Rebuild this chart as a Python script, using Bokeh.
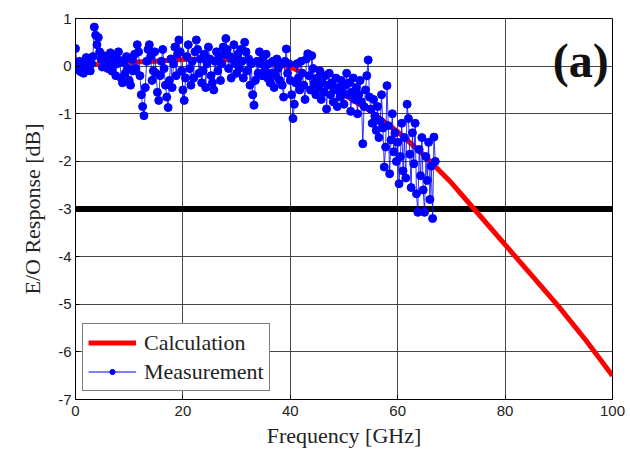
from bokeh.plotting import figure
from bokeh.models import Range1d, Legend, LegendItem, Label, FixedTicker
from bokeh.embed import file_html
from bokeh.resources import INLINE

# Calculation curve (GHz, dB)
calc_freq = [0, 2, 5, 10, 15, 20, 25, 30, 35, 40, 45, 50, 55, 60, 65, 70, 75, 80, 85, 90, 95, 100]
calc_resp = [0.0, 0.02, 0.05, 0.08, 0.10, 0.14, 0.15, 0.13, 0.08, -0.02, -0.28, -0.60, -0.95,
             -1.38, -1.88, -2.45, -3.10, -3.75, -4.40, -5.05, -5.75, -6.50]

# Measurement (0.25 GHz steps from 0 GHz)
meas_start = 0.0
meas_step = 0.25
meas_resp = [
    0.37, 0.05, -0.08, 0.10, -0.12, 0.02, -0.15, 0.08, 0.18, -0.05, 0.12, -0.10, 0.05, 0.20, 0.82, 0.65, 0.45, 0.60, 0.30, 0.15,
    -0.02, 0.22, 0.05, 0.15, -0.05, 0.10, 0.28, -0.10, 0.02, 0.18, -0.20, 0.05, 0.30, 0.12, -0.25, -0.35, 0.08, -0.15, 0.20, -0.05,
    -0.30, -0.40, 0.15, -0.10, 0.25, -0.05, 0.45, 0.30, -0.20, -0.60, -0.85, -1.04, -0.45, 0.10, 0.35, 0.45, 0.20, -0.30, -0.10, 0.30,
    -0.15, -0.55, -0.72, -0.20, 0.10, 0.35, -0.05, -0.40, -0.65, -0.87, -0.30, 0.15, -0.45, 0.05, 0.40, -0.20, 0.25, 0.55, 0.30, -0.10,
    -0.50, -0.72, -0.25, 0.20, 0.45, -0.05, -0.40, 0.10, -0.25, 0.30, 0.55, 0.35, -0.15, 0.15, -0.35, -0.10, 0.25, -0.45, 0.05, 0.40,
    0.15, -0.20, -0.35, -0.50, 0.10, 0.30, -0.10, 0.20, -0.30, 0.05, 0.40, 0.25, 0.58, 0.35, -0.05, 0.20, -0.25, 0.15, 0.45, 0.05,
    -0.15, 0.25, -0.05, 0.35, 0.10, -0.25, 0.50, 0.30, -0.10, 0.15, -0.40, 0.05, -0.60, -0.82, -0.30, 0.10, -0.15, 0.30, 0.05, -0.20,
    0.20, -0.10, 0.25, -0.25, 0.05, -0.35, -0.15, 0.10, -0.45, -0.20, 0.15, -0.05, -0.30, 0.05, -0.40, -0.65, 0.10, 0.36, -0.15, 0.05,
    -0.30, -0.60, -1.10, -0.80, -0.35, 0.05, -0.25, -0.50, 0.10, -0.15, -0.40, -0.70, 0.15, 0.26, -0.20, -0.50, 0.22, -0.05, -0.35, -0.60,
    -0.25, -0.45, -0.10, -0.70, -0.35, -0.55, -0.20, -0.90, -0.40, -0.15, -0.60, -0.35, -0.75, -0.50, -0.25, -0.85, -0.45, -0.65, -0.30, -0.55,
    -0.80, -0.40, -0.15, -0.60, -0.35, -0.95, -0.55, -0.25, -0.70, -0.45, -1.00, -0.60, -0.30, -0.75, -1.63, -0.85, -0.50, -0.20, 0.13, -0.65,
    -0.90, -1.20, -0.70, -1.05, -1.35, -0.85, -1.50, -1.15, -0.60, -1.30, -2.12, -1.70, -0.41, -1.25, -2.26, -1.55, -1.00, -1.80, -1.40, -2.00,
    -1.60, -2.47, -1.90, -1.20, -2.20, -1.50, -2.35, -0.80, -1.10, -1.85, -2.55, -1.40, -2.05, -1.20, -2.68, -3.07, -1.75, -2.30, -1.50, -2.60,
    -3.07, -1.90, -2.40, -1.60, -2.80, -2.10, -3.20, -1.49, -2.00,
]
meas_freq = [round(meas_start + meas_step * i, 2) for i in range(len(meas_resp))]

# -3 dB reference line
ref_freq = [0, 100]
ref_level = [-3, -3]

x_ticks = [0, 20, 40, 60, 80, 100]
y_ticks = [-7, -6, -5, -4, -3, -2, -1, 0, 1]
y_tick_labels = ["-7", "-6", "-5", "-4", "-3", "-2", "-1", "0", "1"]

SERIF = "Liberation Serif"
SANS = "Liberation Sans"

p = figure(width=630, height=452, output_backend="svg", toolbar_location=None,
           x_range=Range1d(0, 100), y_range=Range1d(-7, 1),
           min_border_left=75, min_border_right=18, min_border_top=18, min_border_bottom=53)

p.background_fill_color = "white"
p.outline_line_color = "black"
p.outline_line_width = 1

for ax in (p.xaxis[0], p.yaxis[0]):
    ax.major_label_text_font = SANS
    ax.major_label_text_font_size = "15px"
    ax.major_label_text_color = "#222222"
    ax.axis_label_text_font = SERIF
    ax.axis_label_text_font_size = "22px"
    ax.axis_label_text_font_style = "normal"
    ax.axis_label_text_color = "#222222"
    ax.major_tick_in = 4
    ax.major_tick_out = 0
    ax.minor_tick_line_color = None
    ax.axis_line_color = "black"

p.xaxis.ticker = FixedTicker(ticks=x_ticks)
p.yaxis.ticker = FixedTicker(ticks=y_ticks)
p.yaxis.major_label_overrides = {t: s for t, s in zip(y_ticks, y_tick_labels)}
p.xaxis.axis_label = "Frequency [GHz]"
p.yaxis.axis_label = "E/O Response [dB]"
p.xaxis.major_label_standoff = 6
p.yaxis.major_label_standoff = 4
p.xaxis.axis_label_standoff = 4
p.yaxis.axis_label_standoff = 10

p.grid.grid_line_color = "#333333"
p.grid.grid_line_width = 1
p.grid.grid_line_alpha = 0.9

p.line(ref_freq, ref_level, line_color="black", line_width=6)
r_calc = p.line(calc_freq, calc_resp, line_color="#ff0000", line_width=5)
p.line(meas_freq, meas_resp, line_color="#0000ff", line_width=1, line_alpha=0.8)
p.scatter(meas_freq, meas_resp, size=8, marker="circle",
          fill_color="#0000ff", line_color="#0000ff")

# legend-only glyphs, placed outside the visible ranges, so the legend marker is small
leg_x = [-50, -49]
leg_y = [-50, -50]
leg_line = p.line(leg_x, leg_y, line_color="#0000ff", line_width=1)
leg_dot = p.scatter(leg_x[:1], leg_y[:1], size=5, marker="circle",
                    fill_color="#0000ff", line_color="#0000ff")

legend = Legend(items=[
    LegendItem(label="Calculation", renderers=[r_calc]),
    LegendItem(label="Measurement", renderers=[leg_line, leg_dot]),
], location=(7, 8))
legend.label_text_font = SERIF
legend.label_text_font_size = "22px"
legend.label_text_color = "#222222"
legend.glyph_width = 48
legend.glyph_height = 13
legend.label_height = 27
legend.label_standoff = 8
legend.padding = 5
legend.spacing = 2
legend.margin = 0
legend.border_line_color = "black"
legend.border_line_width = 1
legend.background_fill_color = "white"
legend.background_fill_alpha = 1
p.add_layout(legend, "center")

p.add_layout(Label(x=99.3, y=0.12, text="(a)", text_font=SERIF, text_font_size="48px",
                   text_font_style="bold", text_align="right", text_baseline="alphabetic",
                   text_color="#111111"))

open("out.html", "w").write(file_html(p, INLINE))
